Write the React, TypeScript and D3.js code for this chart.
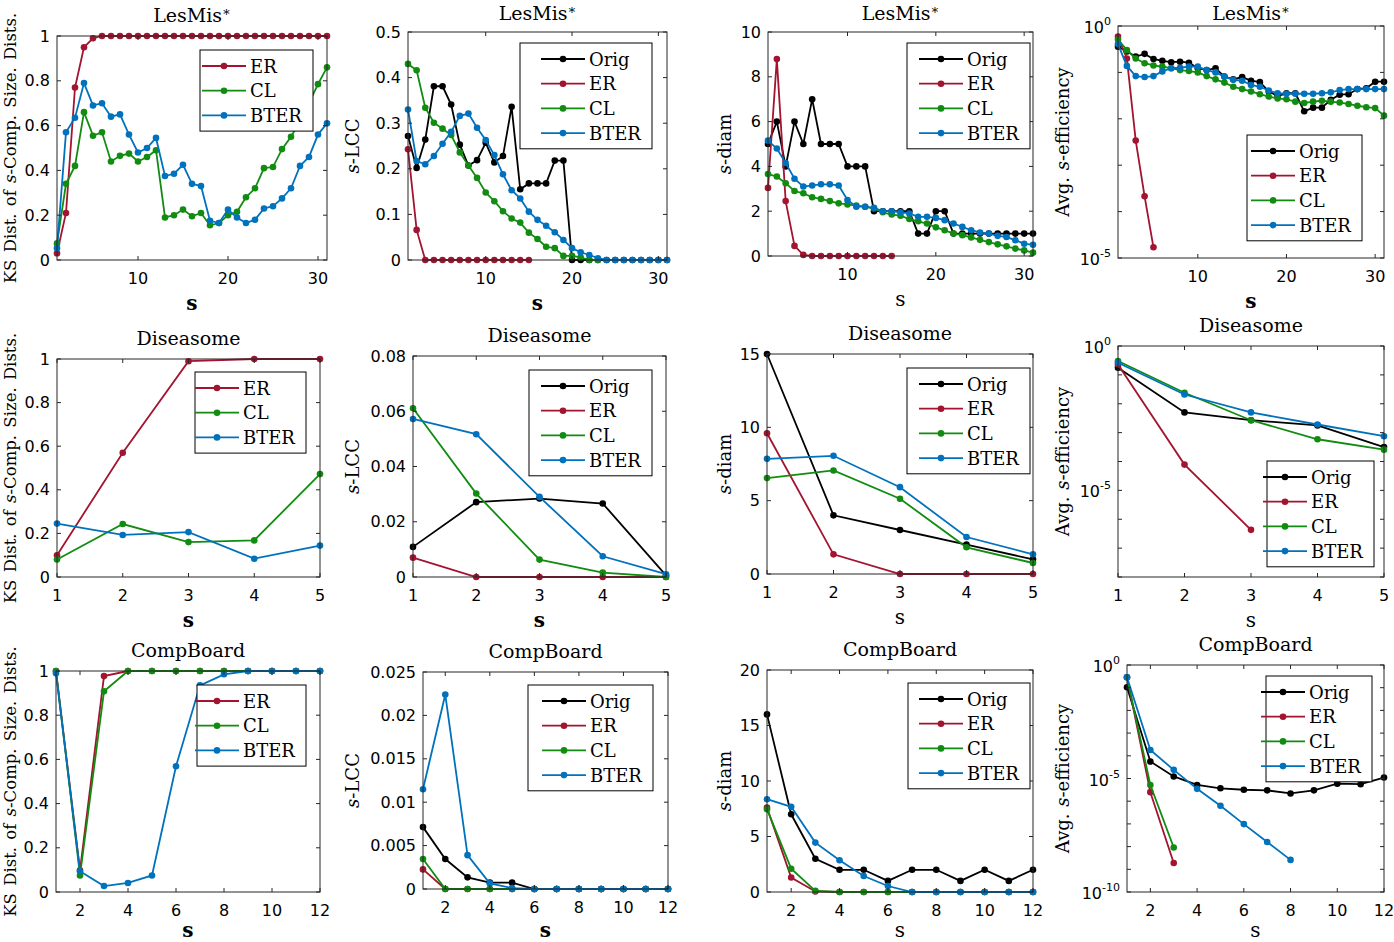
import * as d3 from 'd3';

// ---------- colours ----------
const COLORS: Record<string, string> = {
  Orig: '#000000',
  ER: '#A2142F',
  CL: '#118C11',
  BTER: '#0072BD',
};

// ---------- LesMis* (s = 1..31) ----------
const lesKsER = [0.03, 0.21, 0.77, 0.95, 0.99, 1, 1, 1, 1, 1, 1, 1, 1, 1, 1, 1, 1, 1, 1, 1, 1, 1, 1, 1, 1, 1, 1, 1, 1, 1, 1];
const lesKsCL = [0.074, 0.34, 0.42, 0.66, 0.555, 0.57, 0.44, 0.465, 0.475, 0.44, 0.46, 0.49, 0.19, 0.2, 0.225, 0.195, 0.21, 0.155, 0.165, 0.2, 0.215, 0.28, 0.32, 0.41, 0.415, 0.495, 0.55, 0.62, 0.7, 0.785, 0.86];
const lesKsBTER = [0.053, 0.57, 0.635, 0.79, 0.69, 0.7, 0.64, 0.65, 0.56, 0.48, 0.5, 0.545, 0.375, 0.385, 0.425, 0.34, 0.33, 0.175, 0.165, 0.225, 0.19, 0.165, 0.18, 0.23, 0.24, 0.275, 0.32, 0.42, 0.46, 0.56, 0.61];

const lesLccOrig = [0.272, 0.202, 0.264, 0.381, 0.381, 0.341, 0.253, 0.207, 0.219, 0.257, 0.214, 0.228, 0.336, 0.155, 0.168, 0.168, 0.168, 0.218, 0.218, 0, 0, 0, 0, 0, 0, 0, 0, 0, 0, 0, 0];
const lesLccER = [0.243, 0.066, 0, 0, 0, 0, 0, 0, 0, 0, 0, 0, 0, 0, 0];
const lesLccCL = [0.43, 0.416, 0.334, 0.301, 0.288, 0.274, 0.236, 0.207, 0.18, 0.148, 0.129, 0.107, 0.091, 0.082, 0.06, 0.046, 0.029, 0.026, 0.009, 0.009, 0.006, 0, 0];
const lesLccBTER = [0.33, 0.217, 0.21, 0.228, 0.255, 0.281, 0.316, 0.321, 0.29, 0.263, 0.23, 0.188, 0.153, 0.135, 0.106, 0.088, 0.075, 0.061, 0.044, 0.026, 0.017, 0.011, 0.004, 0, 0, 0, 0, 0, 0, 0, 0];

const lesDiamOrig = [5, 6, 4, 6, 5, 7, 5, 5, 5, 4, 4, 4, 2, 2, 2, 2, 2, 1, 1, 2, 2, 1, 1, 1, 1, 1, 1, 1, 1, 1, 1];
const lesDiamER = [3.04, 8.79, 2.45, 0.45, 0.05, 0, 0, 0, 0, 0, 0, 0, 0, 0, 0];
const lesDiamCL = [3.66, 3.55, 3.25, 2.9, 2.8, 2.62, 2.55, 2.45, 2.35, 2.3, 2.25, 2.2, 2.12, 1.95, 1.85, 1.8, 1.65, 1.55, 1.45, 1.28, 1.15, 1.0, 0.93, 0.83, 0.72, 0.62, 0.52, 0.43, 0.33, 0.25, 0.15];
const lesDiamBTER = [5.15, 4.8, 4.15, 3.45, 3.1, 3.15, 3.2, 3.2, 3.15, 2.5, 2.2, 2.2, 2.15, 2.0, 2.0, 1.95, 1.9, 1.75, 1.75, 1.7, 1.6, 1.45, 1.3, 1.15, 1.05, 1.0, 0.9, 0.85, 0.7, 0.55, 0.5];

const lesEffOrig = [0.359, 0.282, 0.219, 0.251, 0.195, 0.178, 0.166, 0.17, 0.162, 0.123, 0.112, 0.123, 0.0813, 0.0708, 0.0794, 0.0661, 0.0617, 0.0389, 0.0309, 0.0355, 0.0355, 0.0145, 0.0174, 0.0174, 0.0257, 0.0331, 0.0339, 0.0437, 0.0457, 0.0631, 0.0631];
const lesEffER = [0.589, 0.2, 0.00339, 0.000214, 0.000017];
const lesEffCL = [0.513, 0.302, 0.2, 0.158, 0.141, 0.133, 0.123, 0.112, 0.107, 0.1, 0.0832, 0.0708, 0.0603, 0.049, 0.0437, 0.0389, 0.0339, 0.0302, 0.0275, 0.0263, 0.0234, 0.0219, 0.0234, 0.0245, 0.0234, 0.0224, 0.0209, 0.0191, 0.0178, 0.017, 0.0117];
const lesEffBTER = [0.407, 0.138, 0.0832, 0.0794, 0.0832, 0.105, 0.123, 0.126, 0.133, 0.133, 0.112, 0.1, 0.0813, 0.0692, 0.0661, 0.0537, 0.049, 0.0407, 0.0355, 0.0347, 0.0347, 0.0347, 0.0347, 0.0355, 0.0372, 0.0417, 0.0437, 0.0437, 0.0437, 0.0437, 0.0437];

// ---------- Diseasome (s = 1..5) ----------
const disKsER = [0.1, 0.57, 0.99, 1.0, 1.0];
const disKsCL = [0.08, 0.243, 0.16, 0.168, 0.472];
const disKsBTER = [0.245, 0.193, 0.206, 0.084, 0.144];

const disLccOrig = [0.0109, 0.0271, 0.0284, 0.0266, 0.0006];
const disLccER = [0.007, 0, 0, 0, 0];
const disLccCL = [0.0611, 0.0302, 0.0063, 0.0016, 0];
const disLccBTER = [0.0572, 0.0517, 0.029, 0.0075, 0.001];

const disDiamOrig = [15, 4, 3, 2, 1];
const disDiamER = [9.6, 1.34, 0, 0, 0];
const disDiamCL = [6.54, 7.06, 5.13, 1.82, 0.75];
const disDiamBTER = [7.85, 8.06, 5.92, 2.52, 1.34];

const disEffOrig = [0.178, 0.00501, 0.00269, 0.00178, 0.000316];
const disEffER = [0.229, 7.8e-5, 4.3e-7];
const disEffCL = [0.302, 0.024, 0.00269, 0.000589, 0.000257];
const disEffBTER = [0.263, 0.0209, 0.00501, 0.00191, 0.00075];

// ---------- CompBoard (s = 1..12) ----------
const cbKsER = [1, 0.098, 0.977, 1, 1, 1, 1, 1, 1, 1, 1, 1];
const cbKsCL = [1, 0.075, 0.908, 1, 1, 1, 1, 1, 1, 1, 1, 1];
const cbKsBTER = [0.99, 0.094, 0.027, 0.041, 0.075, 0.569, 0.935, 0.985, 1, 1, 1, 1];

const cbLccOrig = [0.00713, 0.00345, 0.00134, 0.00073, 0.00073, 0, 0, 0, 0, 0, 0, 0];
const cbLccER = [0.00226, 0, 0, 0, 0, 0, 0, 0, 0, 0, 0, 0];
const cbLccCL = [0.00345, 0, 0, 0, 0, 0, 0, 0, 0, 0, 0, 0];
const cbLccBTER = [0.0115, 0.0224, 0.0039, 0.00065, 0.0001, 0, 0, 0, 0, 0, 0, 0];

const cbDiamOrig = [16, 7, 3, 2, 2, 1, 2, 2, 1, 2, 1, 2];
const cbDiamER = [7.6, 1.3, 0.05, 0, 0, 0, 0, 0, 0, 0, 0, 0];
const cbDiamCL = [7.46, 2.1, 0.1, 0, 0, 0, 0, 0, 0, 0, 0, 0];
const cbDiamBTER = [8.36, 7.67, 4.45, 2.86, 1.44, 0.54, 0, 0, 0, 0, 0, 0];

const cbEffOrig = [0.105, 5.6e-5, 1.23e-5, 5.2e-6, 3.7e-6, 3.2e-6, 3.0e-6, 2.2e-6, 3.0e-6, 5.9e-6, 5.6e-6, 1.1e-5];
const cbEffER = [0.288, 2.5e-6, 1.9e-9];
const cbEffCL = [0.288, 5.2e-6, 9.1e-9];
const cbEffBTER = [0.288, 1.8e-4, 2.4e-5, 3.5e-6, 6.3e-7, 9.8e-8, 1.6e-8, 2.6e-9];

// ---------- axis ticks ----------
const xTicksLes = [10, 20, 30];
const xTicksDis = [1, 2, 3, 4, 5];
const xTicksCb = [2, 4, 6, 8, 10, 12];
const yTicksUnit = [0, 0.2, 0.4, 0.6, 0.8, 1];
const yTicksLesLcc = [0, 0.1, 0.2, 0.3, 0.4, 0.5];
const yTicksLesDiam = [0, 2, 4, 6, 8, 10];
const yTicksDisLcc = [0, 0.02, 0.04, 0.06, 0.08];
const yTicksDisDiam = [0, 5, 10, 15];
const yTicksCbLcc = [0, 0.005, 0.01, 0.015, 0.02, 0.025];
const yTicksCbDiam = [0, 5, 10, 15, 20];

type Series = { name: string; values: number[] };
type PanelDef = {
  title: string;
  star?: boolean;
  ylabel: 'ks' | 'lcc' | 'diam' | 'eff';
  ylabelX: number;
  box: { l: number; t: number; r: number; b: number };
  xDomain: [number, number];
  xTicks: number[];
  yDomain: [number, number];
  yTicks?: number[];
  logLabels?: number[];
  log?: boolean;
  boldS: boolean;
  legend: { x: number; y: number; w: number };
  series: Series[];
};

const ks = (er: number[], cl: number[], bt: number[]): Series[] => [
  { name: 'ER', values: er },
  { name: 'CL', values: cl },
  { name: 'BTER', values: bt },
];
const four = (o: number[], er: number[], cl: number[], bt: number[]): Series[] => [
  { name: 'Orig', values: o },
  { name: 'ER', values: er },
  { name: 'CL', values: cl },
  { name: 'BTER', values: bt },
];

const panels: PanelDef[] = [
  // row 1
  { title: 'LesMis', star: true, ylabel: 'ks', ylabelX: 10, box: { l: 57, t: 36, r: 327, b: 260 }, xDomain: [1, 31], xTicks: xTicksLes, yDomain: [0, 1], yTicks: yTicksUnit, boldS: true, legend: { x: 200, y: 50, w: 113 }, series: ks(lesKsER, lesKsCL, lesKsBTER) },
  { title: 'LesMis', star: true, ylabel: 'lcc', ylabelX: 352, box: { l: 408, t: 32, r: 667, b: 260 }, xDomain: [1, 31], xTicks: xTicksLes, yDomain: [0, 0.5], yTicks: yTicksLesLcc, boldS: true, legend: { x: 520, y: 43, w: 132 }, series: four(lesLccOrig, lesLccER, lesLccCL, lesLccBTER) },
  { title: 'LesMis', star: true, ylabel: 'diam', ylabelX: 724, box: { l: 768, t: 32, r: 1033, b: 256 }, xDomain: [1, 31], xTicks: xTicksLes, yDomain: [0, 10], yTicks: yTicksLesDiam, boldS: false, legend: { x: 907, y: 43, w: 123 }, series: four(lesDiamOrig, lesDiamER, lesDiamCL, lesDiamBTER) },
  { title: 'LesMis', star: true, ylabel: 'eff', ylabelX: 1062, box: { l: 1118, t: 26, r: 1384, b: 258 }, xDomain: [1, 31], xTicks: xTicksLes, yDomain: [1e-5, 1], log: true, logLabels: [0, -5], boldS: true, legend: { x: 1247, y: 135, w: 115 }, series: four(lesEffOrig, lesEffER, lesEffCL, lesEffBTER) },
  // row 2
  { title: 'Diseasome', ylabel: 'ks', ylabelX: 10, box: { l: 57, t: 359, r: 320, b: 577 }, xDomain: [1, 5], xTicks: xTicksDis, yDomain: [0, 1], yTicks: yTicksUnit, boldS: true, legend: { x: 195, y: 372, w: 111 }, series: ks(disKsER, disKsCL, disKsBTER) },
  { title: 'Diseasome', ylabel: 'lcc', ylabelX: 352, box: { l: 413, t: 356, r: 666, b: 577 }, xDomain: [1, 5], xTicks: xTicksDis, yDomain: [0, 0.08], yTicks: yTicksDisLcc, boldS: true, legend: { x: 529, y: 370, w: 123 }, series: four(disLccOrig, disLccER, disLccCL, disLccBTER) },
  { title: 'Diseasome', ylabel: 'diam', ylabelX: 724, box: { l: 767, t: 354, r: 1033, b: 574 }, xDomain: [1, 5], xTicks: xTicksDis, yDomain: [0, 15], yTicks: yTicksDisDiam, boldS: false, legend: { x: 907, y: 368, w: 123 }, series: four(disDiamOrig, disDiamER, disDiamCL, disDiamBTER) },
  { title: 'Diseasome', ylabel: 'eff', ylabelX: 1062, box: { l: 1118, t: 346, r: 1384, b: 577 }, xDomain: [1, 5], xTicks: xTicksDis, yDomain: [1e-8, 1], log: true, logLabels: [0, -5], boldS: false, legend: { x: 1267, y: 461, w: 107 }, series: four(disEffOrig, disEffER, disEffCL, disEffBTER) },
  // row 3
  { title: 'CompBoard', ylabel: 'ks', ylabelX: 10, box: { l: 56, t: 671, r: 320, b: 892 }, xDomain: [1, 12], xTicks: xTicksCb, yDomain: [0, 1], yTicks: yTicksUnit, boldS: true, legend: { x: 197, y: 685, w: 109 }, series: ks(cbKsER, cbKsCL, cbKsBTER) },
  { title: 'CompBoard', ylabel: 'lcc', ylabelX: 352, box: { l: 423, t: 672, r: 668, b: 889 }, xDomain: [1, 12], xTicks: xTicksCb, yDomain: [0, 0.025], yTicks: yTicksCbLcc, boldS: true, legend: { x: 528, y: 685, w: 125 }, series: four(cbLccOrig, cbLccER, cbLccCL, cbLccBTER) },
  { title: 'CompBoard', ylabel: 'diam', ylabelX: 724, box: { l: 767, t: 670, r: 1033, b: 892 }, xDomain: [1, 12], xTicks: xTicksCb, yDomain: [0, 20], yTicks: yTicksCbDiam, boldS: false, legend: { x: 908, y: 683, w: 122 }, series: four(cbDiamOrig, cbDiamER, cbDiamCL, cbDiamBTER) },
  { title: 'CompBoard', ylabel: 'eff', ylabelX: 1062, box: { l: 1127, t: 665, r: 1384, b: 892 }, xDomain: [1, 12], xTicks: xTicksCb, yDomain: [1e-10, 1], log: true, logLabels: [0, -5, -10], boldS: false, legend: { x: 1266, y: 676, w: 106 }, series: four(cbEffOrig, cbEffER, cbEffCL, cbEffBTER) },
];

const SERIF = '"DejaVu Serif", "Liberation Serif", serif';
const SANS = '"DejaVu Sans", "Liberation Sans", Arial, sans-serif';
const AXIS = '#262626';
const TICK = 4;

function YLabel({ kind, x, y }: { kind: PanelDef['ylabel']; x: number; y: number }) {
  const it = <tspan fontStyle="italic">s</tspan>;
  let content;
  if (kind === 'ks') content = <>KS Dist. of {it}-Comp. Size. Dists.</>;
  else if (kind === 'lcc') content = <>{it}-LCC</>;
  else if (kind === 'diam') content = <>{it}-diam</>;
  else content = <>Avg. {it}-efficiency</>;
  return (
    <text
      transform={`translate(${x},${y}) rotate(-90)`}
      textAnchor="middle"
      dominantBaseline="central"
      fontFamily={SERIF}
      fontSize={kind === 'ks' ? 16.5 : 18}
      wordSpacing={kind === 'ks' ? 2 : 1}
      fill="#000"
    >
      {content}
    </text>
  );
}

function Panel({ p }: { p: PanelDef }) {
  const { l, t, r, b } = p.box;
  const x = d3.scaleLinear().domain(p.xDomain).range([l, r]);
  const y = p.log
    ? d3.scaleLog().domain(p.yDomain).range([b, t])
    : d3.scaleLinear().domain(p.yDomain).range([b, t]);
  const line = d3
    .line<number>()
    .x((_, i) => x(i + 1))
    .y((d) => y(d));

  const decades = p.log
    ? d3.range(Math.round(Math.log10(p.yDomain[0])), 1).map((e) => Math.pow(10, e))
    : [];
  const yTickVals = p.log ? decades : p.yTicks || [];

  const lg = p.legend;
  const rowH = 24.7;
  const textX = lg.x + lg.w - 63;
  const lgH = p.series.length * rowH + 7;

  return (
    <g>
      {/* title */}
      <text x={(l + r) / 2} y={Math.max(t - 14, 20)} textAnchor="middle" fontFamily={SERIF} fontSize={19}>
        {p.title}
        {p.star && (
          <tspan fontSize={13} dy={-6}>
            ∗
          </tspan>
        )}
      </text>

      {/* series */}
      {p.series.map((s) => (
        <g key={s.name}>
          <path d={line(s.values) || ''} fill="none" stroke={COLORS[s.name]} strokeWidth={1.8} />
          {s.values.map((v, i) => (
            <circle key={i} cx={x(i + 1)} cy={y(v)} r={3.3} fill={COLORS[s.name]} />
          ))}
        </g>
      ))}

      {/* axes box */}
      <rect x={l} y={t} width={r - l} height={b - t} fill="none" stroke={AXIS} strokeWidth={1} />

      {/* x ticks */}
      {p.xTicks.map((v) => (
        <g key={'x' + v}>
          <line x1={x(v)} x2={x(v)} y1={b} y2={b - TICK} stroke={AXIS} />
          <line x1={x(v)} x2={x(v)} y1={t} y2={t + TICK} stroke={AXIS} />
          <text x={x(v)} y={b + 24} textAnchor="middle" fontFamily={SANS} fontSize={16} fill="#000">
            {v}
          </text>
        </g>
      ))}

      {/* y ticks */}
      {yTickVals.map((v, i) => (
        <g key={'y' + i}>
          <line x1={l} x2={l + TICK} y1={y(v)} y2={y(v)} stroke={AXIS} />
          <line x1={r} x2={r - TICK} y1={y(v)} y2={y(v)} stroke={AXIS} />
          {!p.log && (
            <text x={l - 7} y={y(v)} textAnchor="end" dominantBaseline="central" fontFamily={SANS} fontSize={16} fill="#000">
              {String(v)}
            </text>
          )}
        </g>
      ))}
      {p.log &&
        (p.logLabels || []).map((e) => (
          <text key={'ll' + e} x={l - 7} y={y(Math.pow(10, e)) + 7} textAnchor="end" fontFamily={SANS} fontSize={16} fill="#000">
            10
            <tspan fontSize={11} dy={-8}>
              {String(e)}
            </tspan>
          </text>
        ))}

      {/* x label */}
      <text
        x={(l + r) / 2}
        y={Math.min(b + 50, 937)}
        textAnchor="middle"
        fontFamily={SERIF}
        fontSize={20}
        fontWeight={p.boldS ? 'bold' : 'normal'}
      >
        s
      </text>

      <YLabel kind={p.ylabel} x={p.ylabelX} y={(t + b) / 2} />

      {/* legend */}
      <g>
        <rect x={lg.x} y={lg.y} width={lg.w} height={lgH} fill="#fff" stroke="#000" strokeWidth={1} />
        {p.series.map((s, i) => {
          const cy = lg.y + 16 + i * rowH;
          return (
            <g key={'lg' + s.name}>
              <line x1={textX - 48} x2={textX - 4} y1={cy} y2={cy} stroke={COLORS[s.name]} strokeWidth={1.8} />
              <circle cx={textX - 26} cy={cy} r={3.3} fill={COLORS[s.name]} />
              <text x={textX} y={cy} dominantBaseline="central" fontFamily={SERIF} fontSize={18}>
                {s.name}
              </text>
            </g>
          );
        })}
      </g>
    </g>
  );
}

export default function App() {
  return (
    <svg
      width={1394}
      height={942}
      style={{ position: 'absolute', left: 0, top: 0, background: '#fff' }}
    >
      <rect x={0} y={0} width={1394} height={942} fill="#fff" />
      {panels.map((p, i) => (
        <Panel key={i} p={p} />
      ))}
    </svg>
  );
}
